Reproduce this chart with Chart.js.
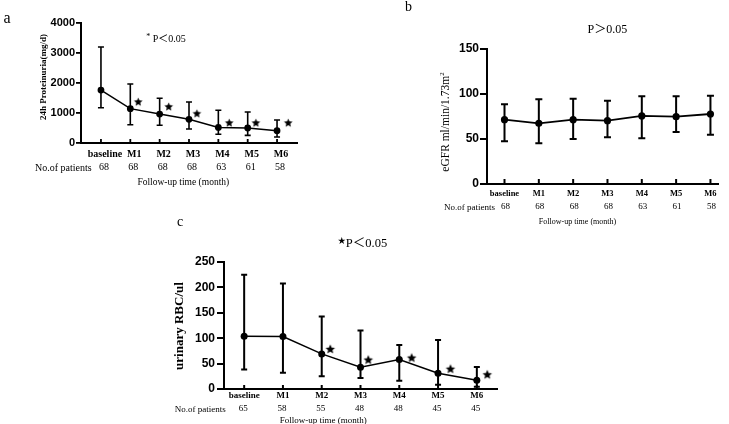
<!DOCTYPE html>
<html><head><meta charset="utf-8">
<script src="https://cdn.jsdelivr.net/npm/chart.js@4/dist/chart.umd.min.js"></script>
<style>
html,body{margin:0;padding:0;background:#fff;}
#wrap{position:relative;width:729px;height:424px;overflow:hidden;background:#fff;}
canvas{position:absolute;}
.t{position:absolute;font-family:"Liberation Serif","Times New Roman","Noto Sans CJK SC",serif;color:#000;white-space:nowrap;line-height:1;}
</style></head><body>
<div id="wrap">
<canvas id="ca"></canvas>
<canvas id="cb"></canvas>
<canvas id="cc"></canvas>
</div>
<script>
// ---------- data ----------
const categories = ['baseline','M1','M2','M3','M4','M5','M6'];

const patientsA = [68,68,68,68,63,61,58];
const proteinMean  = [1765,1145,965,790,520,500,410];
const proteinUpper = [3200,1965,1490,1365,1090,1035,765];
const proteinLower = [1175,610,590,465,290,255,200];
const proteinStarX = [1.27,2.31,3.27,4.37,5.28,6.38];
const proteinStarY = [1380,1220,990,680,680,680];
const proteinTicks = [0,1000,2000,3000,4000];

const patientsB = [68,68,68,68,63,61,58];
const egfrMean  = [71.5,67.4,71.5,70.4,75.6,74.8,77.8];
const egfrUpper = [88.5,94.1,94.8,92.6,97.4,97.4,98.1];
const egfrLower = [47.4,45.2,50.0,51.9,50.7,57.8,54.8];
const egfrTicks = [0,50,100,150];

const patientsC = [65,58,55,48,48,45,45];
const rbcMean  = [103.9,103.3,69.1,42.8,57.9,30.9,17.1];
const rbcUpper = [225,207.9,142.8,115.1,86.8,96.7,43.4];
const rbcLower = [38.2,32.2,25.0,21.7,16.4,8.6,4.6];
const rbcStarX = [2.22,3.20,4.32,5.32,6.27];
const rbcStarY = [79,58,62,40,29];
const rbcTicks = [0,50,100,150,200,250];

// ---------- helpers ----------
const SERIF = '"Liberation Serif","Times New Roman",serif';
const SANS = '"Liberation Sans",Arial,sans-serif';

function starImage(R){
  const s = Math.ceil(R*2)+2;
  const c = document.createElement('canvas');
  c.width = s; c.height = s;
  const g = c.getContext('2d');
  g.fillStyle = '#000';
  g.beginPath();
  for(let k=0;k<10;k++){
    const r = k%2===0 ? R : R*0.46;
    const a = -Math.PI/2 + k*Math.PI/5;
    const px = s/2 + r*Math.cos(a), py = s/2 + 0.5 + r*Math.sin(a);
    if(k===0) g.moveTo(px,py); else g.lineTo(px,py);
  }
  g.closePath(); g.fill();
  return c;
}

function addText(html, x, y, css, anchor, rot){
  const d = document.createElement('div');
  d.className = 't';
  d.innerHTML = html;
  d.style.cssText += css;
  d.style.left = x+'px'; d.style.top = y+'px';
  let tx = anchor==='left' ? '0' : (anchor==='right' ? '-100%' : '-50%');
  d.style.transform = 'translate('+tx+',-50%)' + (rot ? ' rotate(-90deg)' : '');
  document.getElementById('wrap').appendChild(d);
}

function panel(p){
  const cv = document.getElementById(p.id);
  cv.width = p.w; cv.height = p.h;
  cv.style.left = p.left+'px'; cv.style.top = p.top+'px';
  const A = p.area;
  const decor = {
    id: 'decor_'+p.id,
    beforeDatasetsDraw(chart){
      const ctx = chart.ctx, xs = chart.scales.x, ys = chart.scales.y;
      ctx.save();
      ctx.strokeStyle = '#000';
      ctx.lineWidth = p.tickW;
      categories.forEach((c,i)=>{
        const x = xs.getPixelForValue(i);
        ctx.beginPath(); ctx.moveTo(x, ys.bottom); ctx.lineTo(x, ys.bottom - p.xTickLen); ctx.stroke();
      });
      ctx.lineWidth = p.errW;
      p.mean.forEach((m,i)=>{
        const x = xs.getPixelForValue(i);
        const yu = ys.getPixelForValue(p.upper[i]), yl = ys.getPixelForValue(p.lower[i]);
        ctx.beginPath();
        ctx.moveTo(x,yu); ctx.lineTo(x,yl);
        ctx.moveTo(x-p.cap,yu); ctx.lineTo(x+p.cap,yu);
        ctx.moveTo(x-p.cap,yl); ctx.lineTo(x+p.cap,yl);
        ctx.stroke();
      });
      ctx.restore();
    },
    afterDraw(chart){
      const ctx = chart.ctx, xs = chart.scales.x;
      ctx.save();
      ctx.fillStyle = '#000';
      ctx.textAlign = 'center';
      ctx.textBaseline = 'middle';
      ctx.font = 'bold '+p.catFont+'px '+SERIF;
      categories.forEach((c,i)=>{
        ctx.fillText(c, xs.getPixelForValue(i)+p.catDx, p.catY - p.top);
      });
      ctx.font = p.numFont+'px '+SERIF;
      p.patients.forEach((n,i)=>{
        ctx.fillText(String(n), xs.getPixelForValue(i)+p.numDx, p.numY - p.top);
      });
      ctx.restore();
    }
  };
  const datasets = [
    { data: p.mean.map((v,i)=>({x:i,y:v})), showLine:true, borderColor:'#000', borderWidth:p.lineW,
      pointRadius:p.pr, pointBackgroundColor:'#000', pointBorderColor:'#000', pointBorderWidth:0 }
  ];
  if(p.starX){
    datasets.push({ data: p.starX.map((x,i)=>({x:x,y:p.starY[i]})), showLine:false,
      pointStyle: starImage(p.starR), pointRadius:4 });
  }
  new Chart(cv, {
    type:'scatter',
    data:{datasets},
    options:{
      responsive:false, animation:false, events:[],
      layout:{padding:{left:0, top:A.t - p.top, right:p.left + p.w - A.r, bottom:0}},
      plugins:{legend:{display:false}, tooltip:{enabled:false}},
      scales:{
        x:{type:'linear', min:p.xmin, max:p.xmax,
           afterFit(s){ s.height = p.top + p.h - A.b; },
           ticks:{display:false},
           grid:{display:true, drawOnChartArea:false, drawTicks:false},
           border:{display:true, color:'#000', width:2}},
        y:{type:'linear', min:0, max:p.ymax,
           afterFit(s){ s.width = A.l - p.left; },
           afterBuildTicks(s){ s.ticks = p.yTicks.map(v=>({value:v})); },
           ticks:{color:'#000', padding:p.yPad, callback:v=>String(v),
                  font:{family:SANS, size:p.yFont, weight:'bold'}},
           grid:{drawOnChartArea:false, drawTicks:true, tickLength:p.yTickLen, color:'#000', lineWidth:p.tickW},
           border:{display:true, color:'#000', width:2}}
      }
    },
    plugins:[decor]
  });
}

// ---------- panel a ----------
panel({id:'ca', left:0, top:0, w:320, h:200, area:{l:81,t:23,r:297,b:143},
  xmin:-0.68, xmax:6.68, ymax:4000, yTicks:proteinTicks,
  mean:proteinMean, upper:proteinUpper, lower:proteinLower,
  starX:proteinStarX, starY:proteinStarY, starR:4.5,
  patients:patientsA, catFont:10, catY:154.5, catDx:4, numFont:10, numY:167.7, numDx:3,
  yFont:11, yPad:1, yTickLen:5, tickW:1.8, xTickLen:4, errW:1.6, cap:3, lineW:1.5, pr:3.4});

// ---------- panel b ----------
panel({id:'cb', left:365, top:0, w:364, h:230, area:{l:487,t:49,r:718,b:184},
  xmin:-0.51, xmax:6.22, ymax:150, yTicks:egfrTicks,
  mean:egfrMean, upper:egfrUpper, lower:egfrLower,
  patients:patientsB, catFont:8.5, catY:193.3, catDx:0, numFont:9, numY:206.7, numDx:1,
  yFont:12, yPad:1, yTickLen:7, tickW:2, xTickLen:5, errW:2, cap:3.5, lineW:1.8, pr:3.6});

// ---------- panel c ----------
panel({id:'cc', left:170, top:225, w:340, h:199, area:{l:224,t:262,r:497,b:389},
  xmin:-0.52, xmax:6.52, ymax:250, yTicks:rbcTicks,
  mean:rbcMean, upper:rbcUpper, lower:rbcLower,
  starX:rbcStarX, starY:rbcStarY, starR:5,
  patients:patientsC, catFont:9, catY:395.7, catDx:0, numFont:9, numY:408.7, numDx:-1,
  yFont:12, yPad:2, yTickLen:7, tickW:2, xTickLen:4, errW:2, cap:3, lineW:1.5, pr:3.5});

// ---------- free text ----------
addText('a', 7, 18, 'font-size:16px;', 'center');
addText('<span style="font-size:8px;vertical-align:3px">*</span> P＜0.05', 166, 37.7, 'font-size:10px;', 'center');
addText('24h Proteinuria(mg/d)', 42.7, 77, 'font-size:9px;font-weight:bold;', 'center', true);
addText('No.of patients', 35, 167.7, 'font-size:10px;', 'left');
addText('Follow-up time (month)', 183.3, 182.7, 'font-size:9.5px;', 'center');

addText('b', 408.5, 7, 'font-size:14px;', 'center');
addText('P＞0.05', 607.3, 29, 'font-size:12px;', 'center');
addText('eGFR ml/min/1.73m<sup style="font-size:7px;vertical-align:5px;line-height:0">2</sup>', 446, 122, 'font-size:11.5px;', 'center', true);
addText('No.of patients', 444, 206.7, 'font-size:9px;', 'left');
addText('Follow-up time (month)', 577.5, 221.7, 'font-size:8px;', 'center');

addText('c', 180, 222, 'font-size:14px;', 'center');
addText('<span style="font-size:8px;vertical-align:4px">★</span>P＜0.05', 362.5, 242.7, 'font-size:12.5px;', 'center');
addText('urinary RBC/ul', 178, 326, 'font-size:13px;font-weight:bold;', 'center', true);
addText('No.of patients', 225.7, 408.7, 'font-size:9px;', 'right');
addText('Follow-up time (month)', 323.3, 420, 'font-size:9px;', 'center');
</script>
</body></html>
